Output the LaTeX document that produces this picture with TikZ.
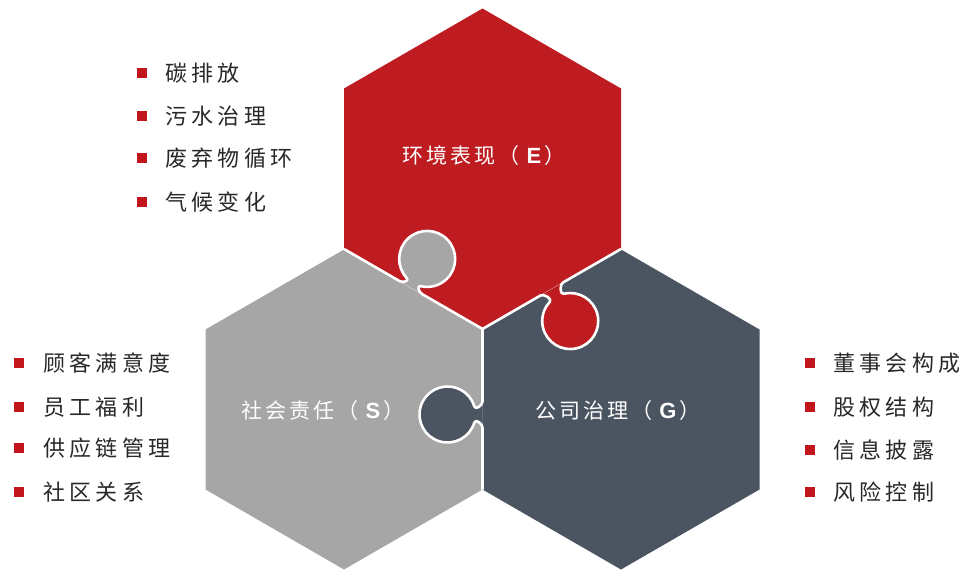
\documentclass[tikz,border=0pt]{standalone}
\usepackage{fontspec}
\setmainfont{Liberation Sans}
\newfontfamily\cjk[LetterSpace=20]{Noto Sans CJK SC}
\newfontfamily\cjklab[LetterSpace=14]{Noto Sans CJK SC}
\newfontfamily\latb{Liberation Sans}
\definecolor{ered}{RGB}{190,28,33}
\definecolor{sgray}{RGB}{166,166,166}
\definecolor{gdark}{RGB}{75,85,98}
\definecolor{bred}{RGB}{192,22,28}
\definecolor{txt}{RGB}{40,40,40}
\tikzset{
  knob/.style 2 args={insert path={(0,0) -- ({#1-13},0) .. controls ({#1-9},0) and ({#1-4.2},{#2-28}) .. ({#1-8},{#2-26.83}) arc[start angle=253.4,end angle=-73.4,radius=28] .. controls ({#1+4.2},{#2-28}) and ({#1+9},0) .. ({#1+13},0) -- (160,0)}},
  knobfill/.style 2 args={insert path={({#1-13},0) .. controls ({#1-9},0) and ({#1-4.2},{#2-28}) .. ({#1-8},{#2-26.83}) arc[start angle=253.4,end angle=-73.4,radius=28] .. controls ({#1+4.2},{#2-28}) and ({#1+9},0) .. ({#1+13},0) -- cycle}},
  seam/.style={draw=white, line width=2.6pt, line join=round},
  bul/.style={fill=bred, minimum size=10, inner sep=0pt, draw=none},
  item/.style={anchor=west, inner sep=0pt, text=txt, font=\cjk\fontsize{22}{22}\selectfont},
  lab/.style={inner sep=0pt, text=white, font=\cjklab\fontsize{21}{21}\selectfont},
}
\newcommand\LB[1]{{\latb\bfseries\fontsize{22}{22}\selectfont #1}}
\newcommand\PL[1]{（\hspace{7pt}\LB{#1}\hspace{3pt}）}
\begin{document}
\begin{tikzpicture}[x=1pt,y=1pt]
\useasboundingbox (0,0) rectangle (968,-573);
% hexagons
\fill[ered] (482.5,-8.5) -- (621,-88.5) -- (621,-248.5) -- (482.5,-328.5) -- (344,-248.5) -- (344,-88.5) -- cycle;
\fill[sgray] (344,-249.5) -- (482.5,-329.5) -- (482.5,-489.5) -- (344,-569.5) -- (205.5,-489.5) -- (205.5,-329.5) -- cycle;
\fill[gdark] (621,-249.5) -- (759.5,-329.5) -- (759.5,-489.5) -- (621,-569.5) -- (482.5,-489.5) -- (482.5,-329.5) -- cycle;
% knob fills
\begin{scope}[shift={(344,-249)}, rotate=-30]
  \fill[sgray, knobfill={77}{33}];
\end{scope}
\begin{scope}[shift={(621,-249)}, rotate=210]
  \fill[ered, knobfill={80}{37}];
\end{scope}
\begin{scope}[shift={(482.5,-489.5)}, rotate=90]
  \fill[gdark, knobfill={75}{35}];
\end{scope}
% seams
\begin{scope}[shift={(344,-249)}, rotate=-30]
  \path[seam, knob={77}{33}];
\end{scope}
\begin{scope}[shift={(621,-249)}, rotate=210]
  \path[seam, knob={80}{37}];
\end{scope}
\begin{scope}[shift={(482.5,-489.5)}, rotate=90]
  \path[seam, knob={75}{35}];
\end{scope}
% labels
\node[lab] (le) at (484,-156) {环境表现\PL{E}};
\node[lab] (ls) at (323,-411) {社会责任\PL{S}};
\node[lab] (lg) at (618,-411) {公司治理\PL{G}};
% E list
\node[bul] (eb1) at (141.5,-73) {};  \node[item] (e1) at (165,-73) {碳排放};
\node[bul] (eb2) at (141.5,-116) {}; \node[item] (e2) at (165,-116) {污水治理};
\node[bul] (eb3) at (141.5,-158) {}; \node[item] (e3) at (165,-158) {废弃物循环};
\node[bul] (eb4) at (141.5,-202) {}; \node[item] (e4) at (165,-202) {气候变化};
% S list
\node[bul] (sb1) at (19,-363) {}; \node[item] (s1) at (43,-363) {顾客满意度};
\node[bul] (sb2) at (19,-407) {}; \node[item] (s2) at (43,-407) {员工福利};
\node[bul] (sb3) at (19,-448) {}; \node[item] (s3) at (43,-448) {供应链管理};
\node[bul] (sb4) at (19,-492) {}; \node[item] (s4) at (43,-492) {社区关系};
% G list
\node[bul] (gb1) at (810,-363) {}; \node[item] (g1) at (833,-363) {董事会构成};
\node[bul] (gb2) at (810,-407) {}; \node[item] (g2) at (833,-407) {股权结构};
\node[bul] (gb3) at (810,-450) {}; \node[item] (g3) at (833,-450) {信息披露};
\node[bul] (gb4) at (810,-492) {}; \node[item] (g4) at (833,-492) {风险控制};
\end{tikzpicture}
\end{document}
